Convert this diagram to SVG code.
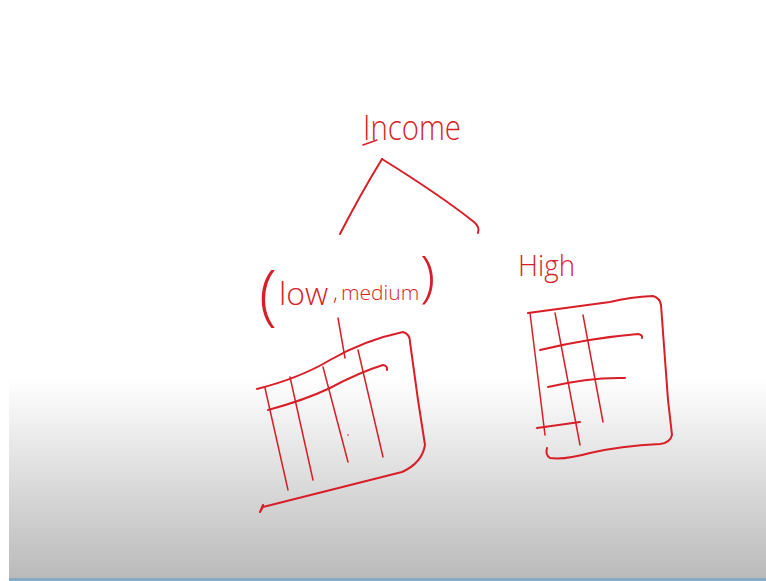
<svg xmlns="http://www.w3.org/2000/svg" width="766" height="581" viewBox="0 0 766 581">
<defs>
<linearGradient id="bg" x1="0" y1="0" x2="0" y2="1">
<stop offset="0" stop-color="#ffffff"/>
<stop offset="1" stop-color="#bababa"/>
</linearGradient>
</defs>
<style>
.ink{fill:none;stroke:#d81e26;stroke-width:2;stroke-linecap:round;stroke-linejoin:round}
.thin{stroke-width:1.5}
.hand{fill:#d81e26;font-family:"Open Sans","Liberation Sans","DejaVu Sans",sans-serif;font-weight:300}
</style>
<rect x="0" y="0" width="766" height="581" fill="#ffffff"/>
<rect x="9" y="378" width="757" height="200" fill="url(#bg)"/>
<rect x="9" y="578" width="757" height="3" fill="#86aac4"/>

<g id="income">
<text class="hand" x="363" y="140" font-size="34" textLength="98" lengthAdjust="spacingAndGlyphs">Income</text>
<path class="ink thin" d="M363,145 L377,140"/>
</g>

<g id="connectors">
<path class="ink" d="M382,159 Q360,195 340,234"/>
<path class="ink" d="M382,159 Q440,195 474,222 Q480,227 478,233"/>
</g>

<g id="low-medium">
<text class="hand"><tspan x="259" y="318" font-size="66">(</tspan><tspan x="279" y="305" font-size="32">low</tspan><tspan x="333" y="300" font-size="22">,</tspan><tspan x="341" y="300" font-size="21">medium</tspan><tspan x="420" y="296" font-size="56">)</tspan></text>
<path class="ink" d="M257,389 Q300,378 330,360 Q365,340 403,332 Q410,334 410,342 L418,400 L425,445 Q422,463 402,472 L263,507 L260,512 M260,512 L263,505"/>
<path class="ink" d="M268,410 Q305,400 330,388 Q360,372 383,365 Q388,366 387,370"/>
<path class="ink thin" d="M265,388 L288,490"/>
<path class="ink thin" d="M290,377 L313,480"/>
<path class="ink thin" d="M323,367 L348,462"/>
<path class="ink thin" d="M358,350 L383,457"/>
<path class="ink thin" d="M338,318 L345,358"/>
<circle cx="348" cy="435" r="0.8" fill="#d81e26"/>
</g>

<g id="high">
<text class="hand" x="518" y="276" font-size="30" textLength="57" lengthAdjust="spacingAndGlyphs">High</text>
<path class="ink" d="M528,313 L610,302 Q630,297 653,296 Q660,298 661,305 L668,400 L672,435 Q670,443 660,444 Q620,446 590,453 Q565,460 550,458 Q545,455 547,448"/>
<path class="ink thin" d="M530,313 L545,435"/>
<path class="ink thin" d="M555,313 L580,445"/>
<path class="ink thin" d="M583,315 L603,422"/>
<path class="ink" d="M540,350 Q590,338 638,334 Q643,335 642,338"/>
<path class="ink" d="M548,387 Q590,377 625,378"/>
<path class="ink" d="M537,428 L580,422"/>
</g>
</svg>
